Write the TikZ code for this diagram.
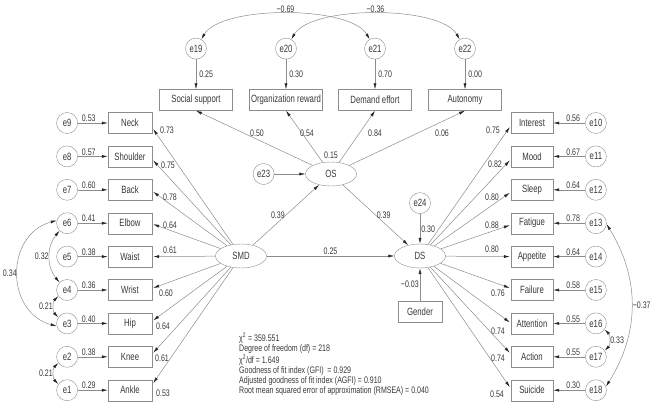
\documentclass[tikz,border=0pt]{standalone}
\usepackage{fontspec}
\setmainfont{Liberation Sans}[FakeStretch=0.74]
\usepackage{tikz}
\usetikzlibrary{shapes,arrows.meta,positioning,calc}
\definecolor{linegray}{gray}{0.55}
\definecolor{txtgray}{gray}{0.22}

\begin{document}
\begin{tikzpicture}[
    x=1pt, y=1pt,
    node distance=30pt,
    obsbox/.style={draw=linegray, text=txtgray, minimum width=44pt, minimum height=21pt, inner sep=1pt, font=\fontsize{10.5}{12}\selectfont},
    errnode/.style={draw=linegray, text=txtgray, circle, minimum size=21pt, inner sep=0pt, font=\fontsize{10.5}{12}\selectfont},
    latnode/.style={draw=linegray, text=txtgray, ellipse, minimum width=51pt, minimum height=24pt, inner sep=0pt, font=\fontsize{10.5}{12}\selectfont},
    lbl/.style={text=txtgray, inner sep=1pt, font=\fontsize{9.5}{10}\selectfont},
    myedge/.style={-{Latex[length=6pt,width=3pt,color=black!85]}, draw=linegray, line width=0.5pt},
    mycov/.style={{Latex[length=6pt,width=3pt,color=black!85]}-{Latex[length=6pt,width=3pt,color=black!85]}, draw=linegray, line width=0.5pt}
]
\useasboundingbox (0,0) rectangle (669,-402);

% latent variables
\node[latnode] (SMD) at (241,-256) {SMD};
\node[latnode, label={[lbl, label distance=2pt]above:0.15}] (OS) at (331,-174) {OS};
\node[latnode] (DS) at (420,-256) {DS};
\node[errnode, left=31pt of OS] (e23) {e23};
\node[errnode, above=30pt of DS] (e24) {e24};
\node[obsbox, below=33pt of DS] (Gender) {Gender};

% organizational stress indicators
\foreach \nm/\txt/\err/\ev/\xx/\lv/\lx in {Social/Social support/e19/0.25/196/0.50/257, Reward/Organization reward/e20/0.30/286/0.54/307, Demand/Demand effort/e21/0.70/375/0.84/375, Autonomy/Autonomy/e22/0.00/465/0.06/442} {
    \node[obsbox, minimum width=73pt] (\nm) at (\xx,-100) {\txt};
    \node[errnode, above=30pt of \nm] (\err) {\err};
    \draw[myedge] (\err) -- (\nm) node[lbl, midway, right, xshift=2pt] {\ev};
    \draw[myedge] (OS) -- (\nm.south);
    \node[lbl] at (\lx,-133) {\lv};
}

% musculoskeletal indicators
\foreach \nm/\err/\ev/\lv/\dy/\lx/\ly [count=\i from 0] in {Neck/e9/0.53/0.73/-6/167/130, Shoulder/e8/0.57/0.75/-4/168/165, Back/e7/0.60/0.78/-2/170/197, Elbow/e6/0.41/0.64/-1/170/225, Waist/e5/0.38/0.61/0/170/250, Wrist/e4/0.36/0.60/2/166/293, Hip/e3/0.40/0.64/3/163/326, Knee/e2/0.38/0.61/4/162/358, Ankle/e1/0.29/0.53/7/163/393} {
    \pgfmathsetmacro{\yy}{-123-33.4*\i}
    \node[obsbox] (\nm) at (130,\yy) {\nm};
    \node[errnode, left=30pt of \nm] (\err) {\err};
    \draw[myedge] (\err) -- (\nm) node[lbl, midway, above, xshift=-4pt] {\ev};
    \draw[myedge] (SMD) -- ($(\nm.east)+(1,\dy)$);
    \node[lbl] at (\lx,-\ly) {\lv};
}

% depression indicators
\foreach \nm/\err/\ev/\lv/\dy/\lx/\ly [count=\i from 0] in {Interest/e10/0.56/0.75/-4/493/130, Mood/e11/0.67/0.82/-4/495/164, Sleep/e12/0.64/0.80/-3/492/197, Fatigue/e13/0.78/0.88/-2/492/225, Appetite/e14/0.64/0.80/0/492/249, Failure/e15/0.58/0.76/2/498/293, Attention/e16/0.55/0.74/1/498/331, Action/e17/0.55/0.74/4/498/358, Suicide/e18/0.30/0.54/3/497/394} {
    \pgfmathsetmacro{\yy}{-123-33.4*\i}
    \node[obsbox, minimum width=42pt] (\nm) at (532,\yy) {\nm};
    \node[errnode, right=32pt of \nm] (\err) {\err};
    \draw[myedge] (\err) -- (\nm) node[lbl, midway, above, xshift=4pt] {\ev};
    \draw[myedge] (DS) -- ($(\nm.west)+(-1,\dy)$);
    \node[lbl] at (\lx,-\ly) {\lv};
}

% structural paths
\draw[myedge] (e23) -- (OS);
\draw[myedge] (SMD) -- (OS) node[lbl, midway, left] {0.39};
\draw[myedge] (OS) -- (DS) node[lbl, midway, right] {0.39};
\draw[myedge] (SMD) -- (DS) node[lbl, midway, above] {0.25};
\draw[myedge] (e24) -- (DS) node[lbl, midway, right] {0.30};
\draw[myedge] (Gender) -- (DS) node[lbl, midway, left] {−0.03};

% error covariances
\draw[mycov] (e19.60) to[out=60, in=120, looseness=0.6] node[lbl, above] {−0.69} (e21.120);
\draw[mycov] (e20.60) to[out=60, in=120, looseness=0.6] node[lbl, above] {−0.36} (e22.120);
\draw[mycov] (e6.225) to[bend right=40] node[lbl, left] {0.32} (e4.135);
\draw[mycov] (e6.165) to[out=195, in=165, looseness=1.3] node[lbl, left] {0.34} (e3.195);
\draw[mycov] (e4.215) to[bend right=45] node[lbl, left] {0.21} (e3.145);
\draw[mycov] (e2.215) to[bend right=45] node[lbl, left] {0.21} (e1.145);
\draw[mycov] (e16.-35) to[bend left=45] node[lbl, right] {0.33} (e17.35);
\draw[mycov] (e13.-5) to[bend left=32] node[lbl, right] {−0.37} (e18.20);

% fit indices
\node[lbl, anchor=north west, align=left] (fit) at (238,-332) {χ\textsuperscript{2} = 359.551\\ Degree of freedom (df) = 218\\ χ\textsuperscript{2}/df = 1.649\\ Goodness of fit index (GFI) \ = 0.929\\ Adjusted goodness of fit index (AGFI) = 0.910\\ Root mean squared error of approximation (RMSEA) = 0.040};
\end{tikzpicture}
\end{document}
